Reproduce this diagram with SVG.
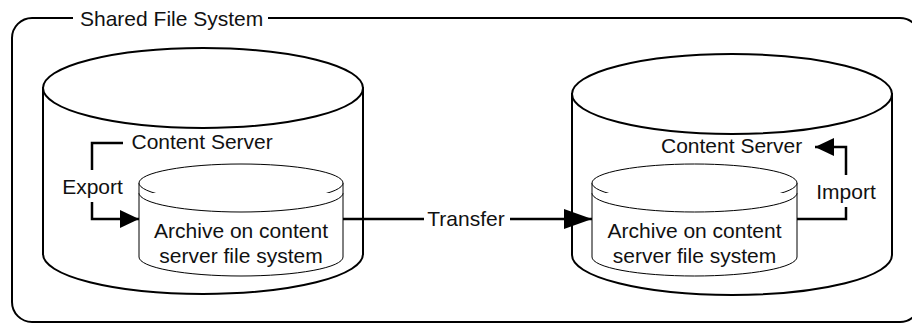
<svg xmlns="http://www.w3.org/2000/svg" width="912" height="323" viewBox="0 0 912 323">
<style>
text{font-family:"Liberation Sans",Arial,sans-serif;font-size:21px;fill:#111}
.outer{fill:#fff;stroke:#000;stroke-width:2}
.inner{fill:#fff;stroke:#000;stroke-width:1}
.conn{fill:none;stroke:#000;stroke-width:2.5}
.frame{fill:none;stroke:#000;stroke-width:2}
</style>
<defs>
<marker id="arrowBig" markerUnits="userSpaceOnUse" markerWidth="30" markerHeight="22" refX="28" refY="10" orient="auto">
<path d="M0,0 L28,10 L0,20 Z" fill="#000"/>
</marker>
<marker id="arrowSmall" markerUnits="userSpaceOnUse" markerWidth="22" markerHeight="20" refX="19" refY="9" orient="auto">
<path d="M0,0 L19,9 L0,18 Z" fill="#000"/>
</marker>
</defs>
<g id="shared-file-system">
<path class="frame" d="M73,18 H32 A20,20 0 0 0 12,38 V302 A20,20 0 0 0 32,322 H900 A20,20 0 0 0 920,302 V38 A20,20 0 0 0 900,18 H268"/>
<text x="80" y="25.5">Shared File System</text>
</g>
<g id="left-server">
<path class="outer" d="M43,88 V254 A160,40 0 0 0 363,254 V88 Z"/>
<ellipse class="outer" cx="203" cy="88" rx="160" ry="40"/>
<text x="131.5" y="149">Content Server</text>
</g>
<g id="right-server">
<path class="outer" d="M572,94 V255 A160,40 0 0 0 892,255 V94 Z"/>
<ellipse class="outer" cx="732" cy="94" rx="160" ry="40"/>
<text x="661" y="153">Content Server</text>
</g>
<g id="left-archive">
<path class="inner" d="M139,183 V257 A102,19 0 0 0 343,257 V183 Z"/>
<ellipse class="inner" cx="241" cy="183" rx="102" ry="19"/>
<path class="inner" d="M139,193 A102,19 0 0 0 343,193"/>
<text x="241" y="238" text-anchor="middle">Archive on content</text>
<text x="241" y="263" text-anchor="middle">server file system</text>
</g>
<g id="right-archive">
<path class="inner" d="M592,183 V257 A102.5,19 0 0 0 797,257 V183 Z"/>
<ellipse class="inner" cx="694.5" cy="183" rx="102.5" ry="19"/>
<path class="inner" d="M592,193 A102.5,19 0 0 0 797,193"/>
<text x="694.5" y="238" text-anchor="middle">Archive on content</text>
<text x="694.5" y="263" text-anchor="middle">server file system</text>
</g>
<g id="connectors">
<path class="conn" d="M123,143 H92 V170"/>
<path class="conn" d="M92,202 V219 H139" marker-end="url(#arrowSmall)"/>
<text x="92.5" y="194" text-anchor="middle">Export</text>
<path class="conn" d="M343,219 H424"/>
<path class="conn" d="M510,219 H592" marker-end="url(#arrowBig)"/>
<text x="466" y="226" text-anchor="middle">Transfer</text>
<path class="conn" d="M797,219 H846 V207"/>
<path class="conn" d="M846,175 V147 H815" marker-end="url(#arrowSmall)"/>
<text x="846" y="199" text-anchor="middle">Import</text>
</g>
</svg>
